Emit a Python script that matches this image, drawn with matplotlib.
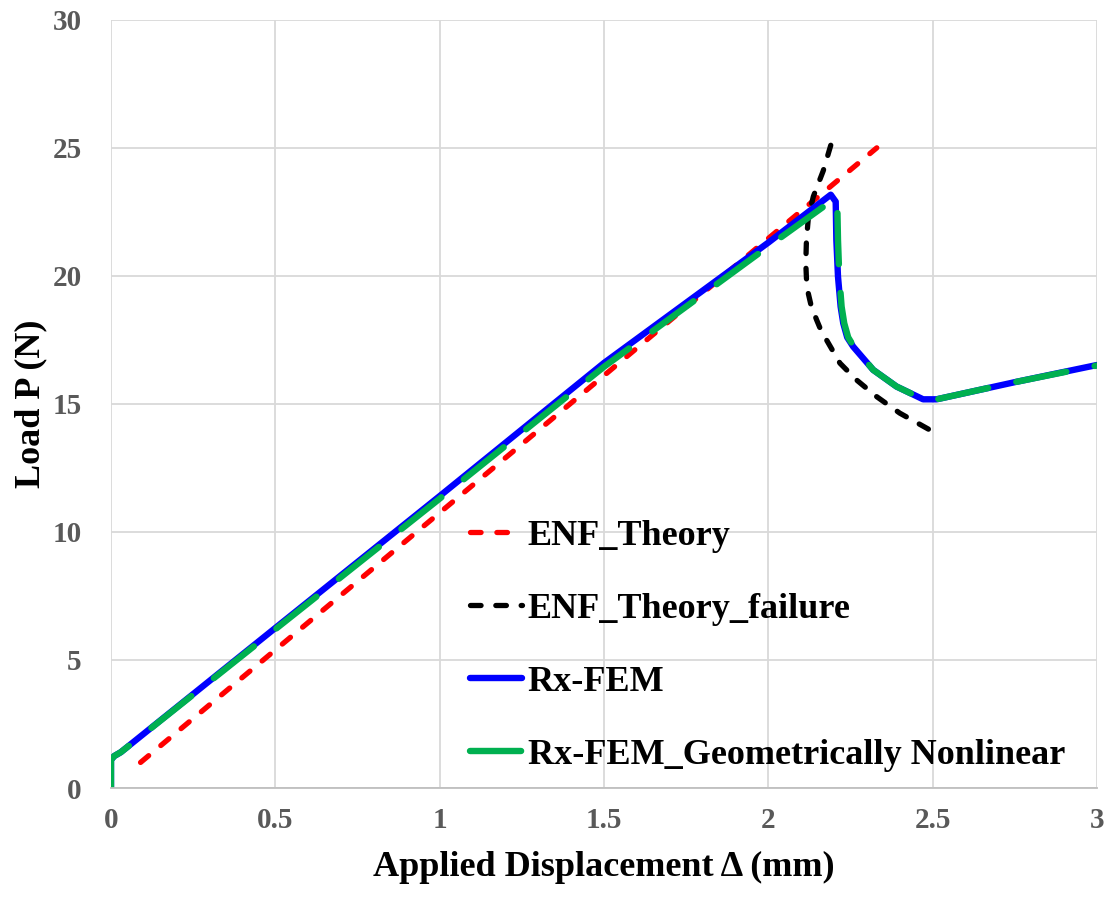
# ENF test: load vs applied displacement
import matplotlib.pyplot as plt

plt.rcParams['font.family'] = ['Liberation Serif', 'DejaVu Serif']
plt.rcParams['font.weight'] = 'bold'

# ENF_Theory (linear beam theory)
theory_x = [0.09, 2.33]
theory_y = [1.0, 25.0]

# ENF_Theory_failure (crack propagation branch)
failure_x = [2.19, 2.167, 2.137, 2.122, 2.116, 2.114, 2.116, 2.121, 2.13, 2.147, 2.16, 2.177, 2.218, 2.268, 2.329, 2.40, 2.492]
failure_y = [25.1, 24.1, 23.1, 22.3, 21.4, 20.5, 19.9, 19.35, 18.85, 18.28, 17.88, 17.5, 16.59, 15.94, 15.29, 14.64, 13.98]

# Rx-FEM
fem_x = [0, 0, 0.01, 0.03, 0.5, 1.0, 1.5, 2.0, 2.19, 2.205, 2.207, 2.212, 2.22, 2.228, 2.24, 2.258, 2.319, 2.39, 2.471, 2.512, 2.75, 3.0]
fem_y = [0, 1.1, 1.25, 1.4, 6.25, 11.4, 16.6, 21.3, 23.17, 22.9, 21.4, 19.97, 18.8, 18.15, 17.6, 17.24, 16.33, 15.68, 15.18, 15.18, 15.85, 16.52]

# Rx-FEM_Geometrically Nonlinear
nl_x = [0, 0, 0.01, 0.03, 0.5, 1.0, 1.5, 2.0, 2.2, 2.21, 2.212, 2.216, 2.223, 2.231, 2.243, 2.26, 2.319, 2.39, 2.471, 2.512, 2.75, 3.0]
nl_y = [0, 1.1, 1.25, 1.4, 6.2, 11.3, 16.45, 21.15, 23.0, 22.7, 21.4, 19.97, 18.8, 18.15, 17.6, 17.24, 16.33, 15.68, 15.18, 15.18, 15.85, 16.5]

x_ticks = [0, 0.5, 1, 1.5, 2, 2.5, 3]
x_tick_labels = ['0', '0.5', '1', '1.5', '2', '2.5', '3']
y_ticks = [0, 5, 10, 15, 20, 25, 30]

fig = plt.figure(figsize=(11.12, 9), dpi=100)
ax = fig.add_axes([0.0998, 0.1244, 0.8867, 0.8536])

ax.plot(theory_x, theory_y, color='#ff0000', linewidth=3.8, linestyle=(0, (2.0, 3.0)),
        dash_capstyle='round', label='ENF_Theory')
ax.plot(failure_x, failure_y, color='black', linewidth=3.8, linestyle=(0, (2.0, 2.8)),
        dash_capstyle='round', label='ENF_Theory_failure')
ax.plot(fem_x, fem_y, color='#0000ff', linewidth=4.6, solid_capstyle='round',
        solid_joinstyle='round', label='Rx-FEM')
ax.plot(nl_x, nl_y, color='#00b050', linewidth=4.6, linestyle=(0, (8, 4.5)),
        dash_capstyle='round', dash_joinstyle='round',
        label='Rx-FEM_Geometrically Nonlinear')

ax.set_xlim(0, 3)
ax.set_ylim(0, 30)
ax.set_xticks(x_ticks)
ax.set_xticklabels(x_tick_labels)
ax.set_yticks(y_ticks)
ax.grid(True, color='#d9d9d9', linewidth=1.3)
ax.set_axisbelow(True)
for side in ['top', 'right', 'left']:
    ax.spines[side].set_visible(False)
ax.spines['bottom'].set_color('#bfbfbf')
ax.spines['bottom'].set_linewidth(1.3)
ax.tick_params(axis='x', length=0, labelsize=21, labelcolor='#595959', pad=14)
ax.tick_params(axis='y', length=0, labelsize=21, labelcolor='#595959', pad=21)
for lab in ax.get_xticklabels() + ax.get_yticklabels():
    lab.set_fontweight('bold')

ax.set_xlabel('Applied Displacement Δ (mm)', fontsize=26, fontweight='bold', labelpad=12)
ax.set_ylabel('Load P (N)', fontsize=26, fontweight='bold', labelpad=4)

leg = ax.legend(loc='lower left', bbox_to_anchor=(0.331, -0.021), frameon=False,
                handlelength=1.45, handletextpad=0.15, labelspacing=1.1,
                prop={'weight': 'bold', 'size': 26})

fig.savefig('out.png', dpi=100)
